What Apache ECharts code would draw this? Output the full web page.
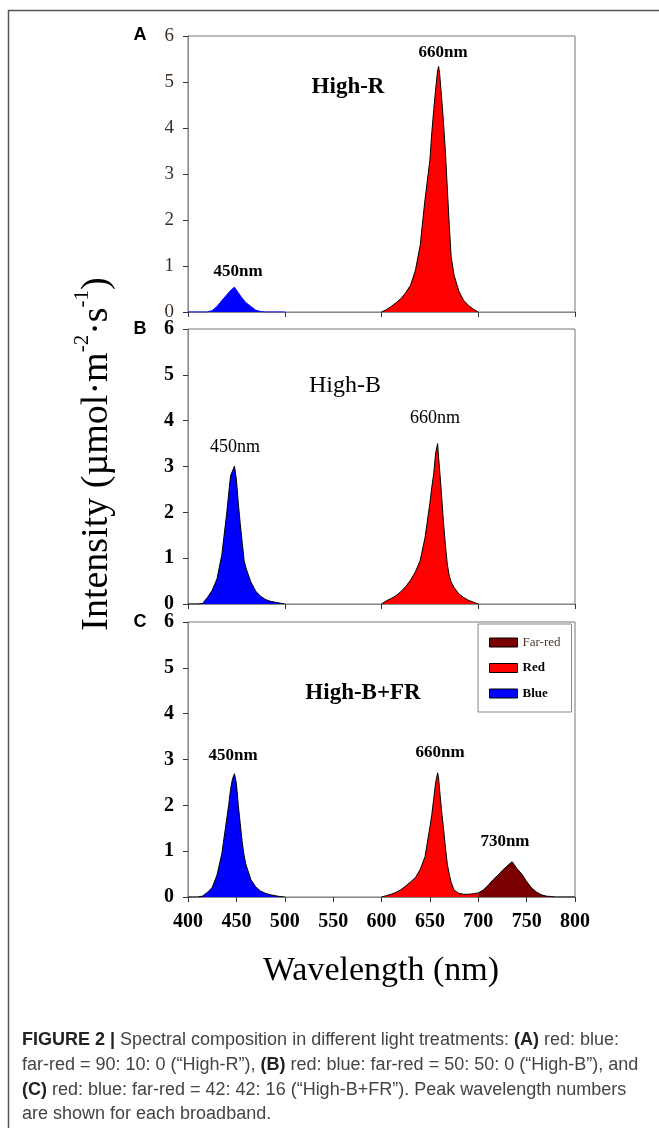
<!DOCTYPE html>
<html><head><meta charset="utf-8">
<script src="https://cdn.jsdelivr.net/npm/echarts@6/dist/echarts.min.js"></script>
<style>html,body{margin:0;padding:0;background:#fff}#c{width:659px;height:1128px}</style>
</head><body><div id="c"></div>
<script>
// ---------- data (wavelength in nm, intensity in µmol·m-2·s-1) ----------
const blueNm   = [400,405,410,415,420,425,430,435,440,442,444,446,448,450,452,454,456,458,460,465,470,475,480,485,490,495,500];
const redNm    = [600,605,610,615,620,625,630,635,640,645,650,652,654,656,658,659,660,662,664,666,668,670,672,675,680,685,690,695,700];
const farRedNm = [700,705,710,715,720,725,730,735,740,745,750,755,760,765,770,775,780,790,800];

// Panel A: High-R
const blueA = [0,0,0,0,0,0.03,0.12,0.25,0.37,0.42,0.47,0.51,0.54,0.50,0.42,0.36,0.30,0.25,0.20,0.12,0.04,0.01,0,0,0,0,0];
const redA  = [0,0.05,0.12,0.20,0.29,0.42,0.58,0.90,1.45,2.45,3.30,3.90,4.40,4.85,5.25,5.34,5.20,4.70,4.14,3.50,2.70,1.90,1.20,0.80,0.45,0.25,0.14,0.06,0];
// Panel B: High-B
const blueB = [0,0,0,0.01,0.14,0.30,0.55,1.08,1.98,2.40,2.80,2.90,3.01,2.72,2.20,1.75,1.35,0.95,0.78,0.48,0.28,0.17,0.10,0.06,0.04,0.02,0];
const redB  = [0,0.07,0.12,0.18,0.27,0.38,0.52,0.70,0.95,1.45,2.20,2.55,2.85,3.30,3.50,3.20,2.95,2.40,1.80,1.30,0.87,0.62,0.48,0.36,0.22,0.14,0.08,0.04,0];
// Panel C: High-B+FR
const blueC   = [0,0,0,0.02,0.10,0.21,0.48,0.95,1.70,2.00,2.35,2.58,2.69,2.48,2.00,1.60,1.20,0.90,0.70,0.38,0.22,0.13,0.08,0.05,0.03,0.01,0];
const redC    = [0,0.03,0.06,0.10,0.16,0.24,0.33,0.42,0.60,0.88,1.52,1.80,2.15,2.50,2.71,2.60,2.35,1.90,1.52,1.10,0.72,0.50,0.32,0.15,0.08,0.06,0.06,0.07,0.09];
const farRedC = [0.09,0.15,0.25,0.37,0.47,0.58,0.68,0.77,0.62,0.50,0.34,0.20,0.11,0.05,0.02,0.01,0,0,0];

const panelTitles = ['High-R','High-B','High-B+FR'];
const panelLetters = ['A','B','C'];
const legendNames = ['Far-red','Red','Blue'];
// annotation anchors in data coordinates [text, nm, intensity]
const notesA = [['450nm',451.7,0.88],['660nm',663.6,5.64],['High-R',565.4,4.88]];
const notesB = [['450nm',448.6,3.42],['660nm',655.3,4.05],['High-B',562.3,4.77]];
const notesC = [['450nm',446.5,3.09],['660nm',660.5,3.14],['730nm',727.6,1.20],['High-B+FR',580.9,4.44]];

// ---------- styling ----------
const SERIF = 'Liberation Serif, Times New Roman, serif';
const SANS = 'Liberation Sans, Arial, sans-serif';
const BLUE = '#0000ff', RED = '#ff0000', FARRED = '#7a0000';

const grids = [
  {left:188, top:36,  width:387, height:276},
  {left:188, top:329, width:387, height:275},
  {left:188, top:622, width:387, height:275}
].map(g => Object.assign({show:true, borderColor:'#777', borderWidth:1, containLabel:false, outerBoundsMode:'none'}, g));

function xAxis(i){
  const last = i === 2;
  return {type:'value', gridIndex:i, min:400, max:800, interval: last ? 50 : 100,
    axisLine:{show:true, onZero:false, lineStyle:{color:'#888', width:1}},
    axisTick:{show:true, inside:false, length:5, lineStyle:{color:'#333'}},
    axisLabel:{show:last, margin:15, fontFamily:SERIF, fontSize:20, fontWeight:'bold', color:'#000'},
    splitLine:{show:false}};
}
function yAxis(i){
  const a = i === 0;
  return {type:'value', gridIndex:i, min:0, max:6, interval:1,
    axisLine:{show:true, lineStyle:{color:'#888', width:1}},
    axisTick:{show:true, inside:false, length:5, lineStyle:{color:'#333'}},
    axisLabel:{margin:14, fontFamily:SERIF, fontSize: a ? 19 : 20, fontWeight: a ? 'normal' : 'bold', color: a ? '#3b2f25' : '#000'},
    splitLine:{show:false}};
}
function area(name, nm, vals, fill, line, i, z){
  return {type:'line', name, xAxisIndex:i, yAxisIndex:i, data: nm.map((x,k)=>[x, vals[k]]),
    symbol:'none', smooth:false, z:z, silent:true,
    lineStyle:{color:line, width:1}, areaStyle:{color:fill, opacity:1}, itemStyle:{color:fill},
    emphasis:{disabled:true}};
}
function notes(list, styles){
  return {symbol:'rect', symbolSize:0, silent:true, itemStyle:{color:'rgba(0,0,0,0)'},
    data: list.map(([t,x,y]) => {
      const isTitle = t.startsWith('High');
      const st = isTitle ? styles.title : styles.peak;
      return {coord:[x,y], label:{show:true, position:'inside', formatter:t, fontFamily:SERIF,
        fontSize:st[0], fontWeight:st[1], color:'#000'}};
    })};
}

const series = [
  area('Blue', blueNm, blueA, BLUE, BLUE, 0, 2),
  Object.assign(area('Red', redNm, redA, RED, '#000', 0, 2), {markPoint: notes(notesA, {peak:[17,'bold'], title:[23,'bold']})}),
  area('Blue', blueNm, blueB, BLUE, '#000', 1, 2),
  Object.assign(area('Red', redNm, redB, RED, '#000', 1, 2), {markPoint: notes(notesB, {peak:[18,'normal'], title:[24,'normal']})}),
  area('Blue', blueNm, blueC, BLUE, '#000', 2, 2),
  Object.assign(area('Red', redNm, redC, RED, '#000', 2, 2), {markPoint: notes(notesC, {peak:[17,'bold'], title:[23,'bold']})}),
  area('Far-red', farRedNm, farRedC, FARRED, '#000', 2, 3)
];

const legendColors = {'Far-red':FARRED, 'Red':RED, 'Blue':BLUE};
const legend = {
  orient:'vertical', left:478, top:624, itemWidth:28, itemHeight:9, itemGap:12.5,
  padding:[12,11,12,11], borderColor:'#888', borderWidth:1, backgroundColor:'#fff',
  icon:'rect', selectedMode:false, z:10,
  data: legendNames.map(n => ({name:n,
    itemStyle:{color:legendColors[n], borderColor:'#000', borderWidth:1},
    textStyle:{fontFamily:SERIF, fontSize:13, fontWeight: n==='Far-red' ? 'normal':'bold', color: n==='Far-red' ? '#4a3a2a' : '#000'}}))
};

// caption: condensed sans, rendered at reference height and squeezed to the reference line width
const capFam = SANS;
const capLines = [
  [['b','FIGURE 2 |'],['n',' Spectral composition in different light treatments: '],['b','(A)'],['n',' red: blue:']],
  [['n','far-red = 90: 10: 0 (\u201cHigh-R\u201d), '],['b','(B)'],['n',' red: blue: far-red = 50: 50: 0 (\u201cHigh-B\u201d), and']],
  [['b','(C)'],['n',' red: blue: far-red = 42: 42: 16 (\u201cHigh-B+FR\u201d). Peak wavelength numbers']],
  [['n','are shown for each broadband.']]
];
const capSize = 18;
const mctx = document.createElement('canvas').getContext('2d');
function lineWidth(parts, size){
  let w = 0;
  parts.forEach(([k,t]) => { mctx.font = (k==='b'?'bold ':'') + size + 'px ' + capFam; w += mctx.measureText(t).width; });
  return w;
}
const capScaleX = Math.min(1, 628 / lineWidth(capLines[1], capSize));

const graphic = [
  {type:'rect', shape:{x:8.5, y:10.5, width:700, height:1200}, style:{fill:'none', stroke:'#555', lineWidth:1.5}, silent:true},
  ...panelLetters.map((l,i) => ({type:'text', x:140, y:[35.5,328.7,622.5][i],
    style:{text:l, fontFamily:SANS, fontSize:18, fontWeight:'bold', fill:'#000', align:'center', verticalAlign:'middle'}})),
  {type:'text', x:97, y:454, rotation:Math.PI/2,
    style:{text:'{a|Intensity (\u00b5mol\u00b7m}{s|-2}{a|\u00b7s}{s|-1}{a|)}', align:'center', verticalAlign:'middle',
      rich:{a:{fontFamily:SERIF, fontSize:38, lineHeight:50, fill:'#000'},
            s:{fontFamily:SERIF, fontSize:21, lineHeight:21, verticalAlign:'top', fill:'#000'}}}},
  {type:'text', x:381, y:971, style:{text:'Wavelength (nm)', fontFamily:SERIF, fontSize:34, fill:'#000', align:'center', verticalAlign:'middle'}},
  ...capLines.map((parts,i) => ({type:'text', x:22, y:[1040,1065,1090,1114][i], scaleX:capScaleX,
    style:{text: parts.map(([k,t]) => '{'+k+'|'+t+'}').join(''), align:'left', verticalAlign:'middle',
      rich:{b:{fontFamily:capFam, fontSize:capSize, fontWeight:'bold', fill:'#222'},
            n:{fontFamily:capFam, fontSize:capSize, fontWeight:'normal', fill:'#444'}}}}))
];

const chart = echarts.init(document.getElementById('c'), null, {renderer:'canvas', width:659, height:1128});
chart.setOption({
  animation:false, backgroundColor:'#fff',
  grid: grids, xAxis:[0,1,2].map(xAxis), yAxis:[0,1,2].map(yAxis),
  legend, series, graphic
});
</script></body></html>
